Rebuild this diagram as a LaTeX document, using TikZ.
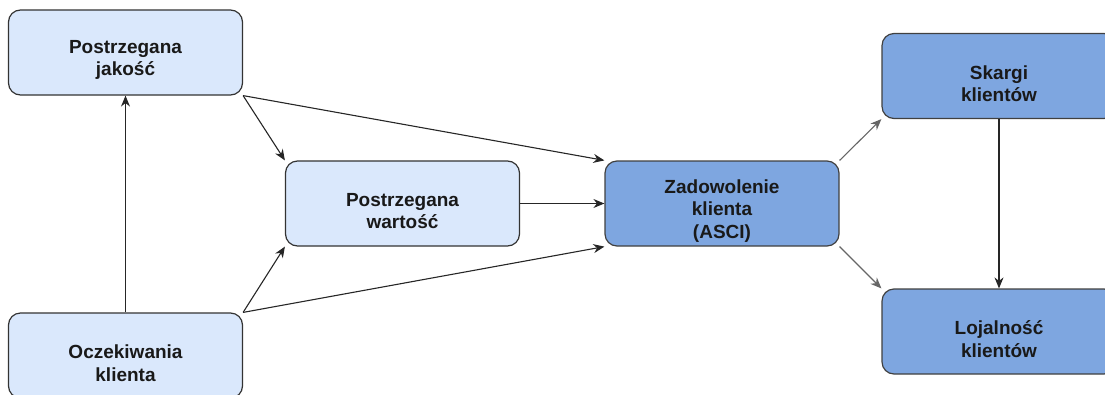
\documentclass[tikz,border=0pt]{standalone}
\usepackage{fontspec}
\setmainfont{Liberation Sans}
\usetikzlibrary{arrows.meta}
\definecolor{lightfill}{HTML}{DAE8FC}
\definecolor{darkfill}{HTML}{7EA6E0}
\definecolor{edgegray}{HTML}{333333}
% a rounded box with its caption set slightly below the middle
\newcommand{\captionbox}[4]{%
  \node[#3] (#1) at (#2) {};
  \node[boxtext] at ([yshift=-7.5pt]#1.center) {#4};}
\begin{document}
\begin{tikzpicture}[x=1pt,y=-1pt,
  box/.style={draw=edgegray, line width=1.2pt, rounded corners=12pt,
    minimum width=234pt, minimum height=85pt},
  boxtext/.style={align=center, inner sep=0pt,
    font=\fontsize{19}{22.5}\selectfont\bfseries, text=black!90},
  lightbox/.style={box, fill=lightfill},
  darkbox/.style={box, fill=darkfill, draw=black!75},
  link/.style={draw=black!85, line width=1.1pt, -{Stealth[length=11pt,width=9pt]}},
  softlink/.style={link, draw=black!60}]
\useasboundingbox (0,0) rectangle (1105,394);
\clip (0,0) rectangle (1105,394);
\captionbox{jak}{125.5,52.5}{lightbox}{Postrzegana\\jakość}
\captionbox{ocz}{125.5,355.5}{lightbox}{Oczekiwania\\klienta}
\captionbox{war}{402.5,203.5}{lightbox}{Postrzegana\\wartość}
\captionbox{zad}{722,203.5}{darkbox}{Zadowolenie\\klienta\\(ASCI)}
\captionbox{ska}{999,76}{darkbox}{Skargi\\klientów}
\captionbox{loj}{999,331.5}{darkbox}{Lojalność\\klientów}
\draw[link] (ocz.north) -- (jak.south);
\draw[link] (jak.south east) -- (war.north west);
\draw[link] (jak.south east) -- (zad.north west);
\draw[link] (ocz.north east) -- (war.south west);
\draw[link] (ocz.north east) -- (zad.south west);
\draw[link] (war.east) -- (zad.west);
\draw[softlink] (zad.north east) -- (ska.south west);
\draw[softlink] (zad.south east) -- (loj.north west);
\draw[link] (ska.south) -- (loj.north);
\end{tikzpicture}
\end{document}
